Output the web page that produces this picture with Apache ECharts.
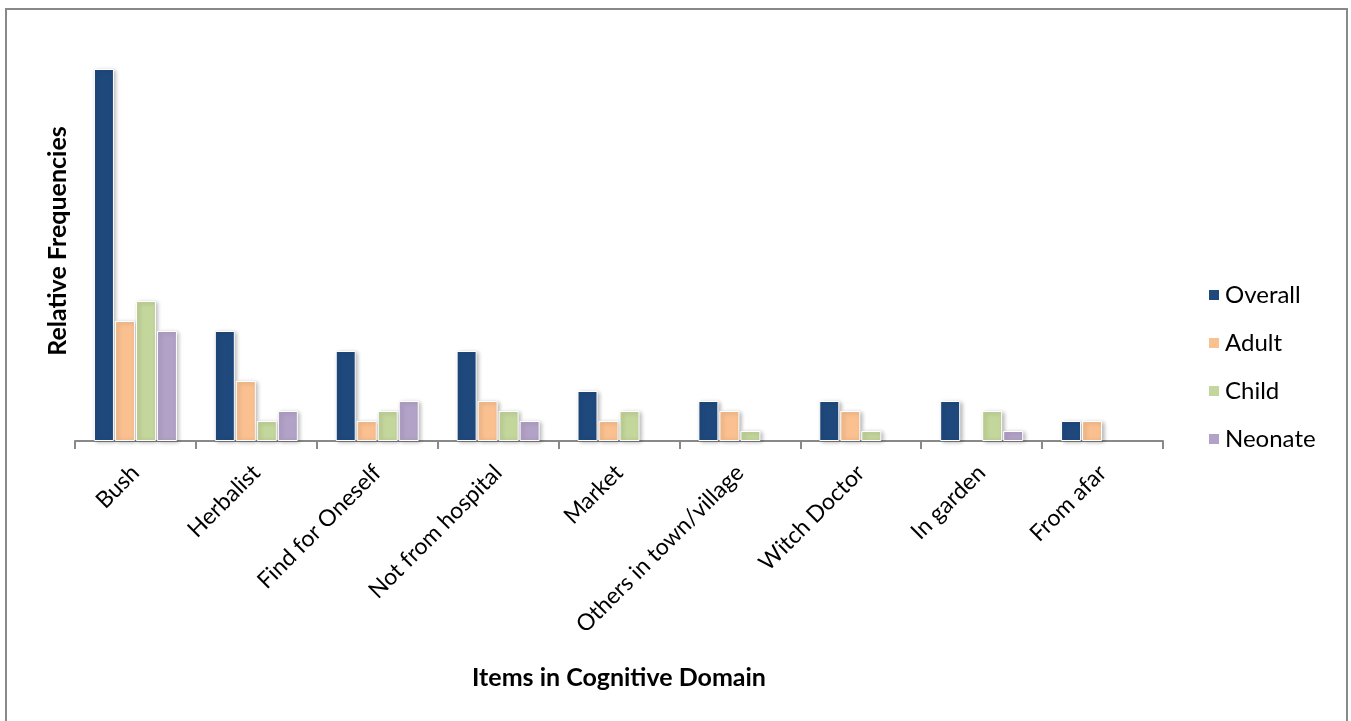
<!DOCTYPE html>
<html>
<head>
<meta charset="utf-8">
<script src="https://cdn.jsdelivr.net/npm/echarts@6/dist/echarts.min.js"></script>
<style>
html, body { margin: 0; padding: 0; background: #fff; }
#chart { width: 1351px; height: 721px; }
</style>
</head>
<body>
<div id="chart"></div>
<script>
// categories on the x axis
var categories = ['Bush', 'Herbalist', 'Find for Oneself', 'Not from hospital', 'Market',
    'Others in town/village', 'Witch Doctor', 'In garden', 'From afar'];

// relative frequencies per group
var overall = [37.2, 11, 9, 9, 5, 4, 4, 4, 2];
var adult   = [12, 6, 2, 4, 2, 3, 3, 0, 2];
var child   = [14, 2, 3, 3, 3, 1, 1, 3, 0];
var neonate = [11, 3, 4, 2, 0, 0, 0, 1, 0];

var legendList = ['Overall', 'Adult', 'Child', 'Neonate'];
var colors = ['#1F497D', '#FAC090', '#C3D69B', '#B3A2C7'];

var font = 'Lato, "Open Sans", sans-serif';

function makeSeries(name, data) {
    return {
        name: name, type: 'bar', barWidth: 20, barGap: '5%',
        itemStyle: {
            borderColor: '#fff',
            borderWidth: 1,
            shadowColor: 'rgba(0,0,0,0.28)',
            shadowBlur: 4,
            shadowOffsetX: 2,
            shadowOffsetY: 1
        },
        data: data.map(function (v) { return v === 0 ? null : v; })
    };
}

var chart = echarts.init(document.getElementById('chart'));
chart.setOption({
    color: colors,
    animation: false,
    textStyle: { fontFamily: font },
    graphic: [{
        type: 'rect',
        shape: { x: 6, y: 9, width: 1341, height: 730 },
        style: { fill: null, stroke: '#898989', lineWidth: 2 },
        silent: true
    }],
    legend: {
        orient: 'vertical',
        left: 1207,
        top: 283,
        padding: 0,
        itemWidth: 12,
        itemHeight: 12,
        itemGap: 24,
        icon: 'rect',
        textStyle: { color: '#000', fontSize: 24, lineHeight: 24, fontFamily: font },
        data: legendList
    },
    grid: {
        left: 75,
        right: 188,
        top: 41,
        bottom: 280,
        containLabel: false
    },
    xAxis: {
        type: 'category',
        data: categories,
        name: 'Items in Cognitive Domain',
        nameLocation: 'middle',
        nameGap: 224,
        nameTextStyle: { color: '#000', fontSize: 25, fontWeight: 'bold', fontFamily: font },
        axisLine: { show: true, lineStyle: { color: '#898989', width: 2 } },
        axisTick: { show: true, length: 8, lineStyle: { color: '#898989', width: 2 } },
        axisLabel: {
            color: '#000',
            fontSize: 23,
            fontFamily: font,
            rotate: 45,
            margin: 28,
            interval: 0
        }
    },
    yAxis: {
        type: 'value',
        min: 0,
        max: 40,
        name: 'Relative Frequencies',
        nameLocation: 'middle',
        nameGap: 5,
        nameTextStyle: { color: '#000', fontSize: 25, fontWeight: 'bold', fontFamily: font },
        axisLine: { show: false },
        axisTick: { show: false },
        axisLabel: { show: false },
        splitLine: { show: false }
    },
    series: [
        makeSeries('Overall', overall),
        makeSeries('Adult', adult),
        makeSeries('Child', child),
        makeSeries('Neonate', neonate)
    ]
});
</script>
</body>
</html>
